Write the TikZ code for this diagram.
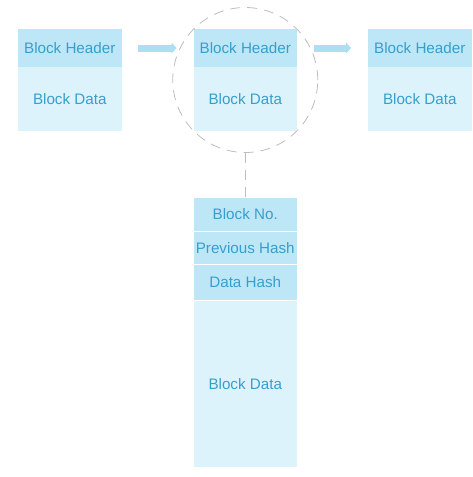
\documentclass[tikz,border=0pt]{standalone}
\usepackage{fontspec}
\setmainfont{Liberation Sans}
\usetikzlibrary{positioning,arrows.meta,calc,backgrounds}
\definecolor{hdrblue}{HTML}{BDE7F7}
\definecolor{datblue}{HTML}{DDF3FC}
\definecolor{arrblue}{HTML}{ACDFF2}
\definecolor{txtblue}{HTML}{379FCC}
\definecolor{ringgray}{HTML}{BDBDBD}

\begin{document}
\begin{tikzpicture}[
    x=1pt, y=-1pt,
    every node/.style={font=\fontsize{15.2}{18}\selectfont, text=txtblue, outer sep=0pt},
    hdr/.style={fill=hdrblue, minimum width=103.5pt, minimum height=38pt, inner sep=0pt},
    dat/.style={fill=datblue, minimum width=103.5pt, minimum height=64pt, inner sep=0pt},
    cell/.style={fill=hdrblue, minimum width=103.5pt, minimum height=#1, inner sep=0pt},
    link/.style={arrblue, line width=7pt, -{Triangle[length=5pt, width=11pt]},
        shorten <=16.5pt, shorten >=17pt},
    ring/.style={draw=ringgray, line width=0.8pt, dash pattern=on 10pt off 7pt},
]
\useasboundingbox (0,0) rectangle (473,477);

% === Chain of blocks ===
\node[hdr, anchor=north west] at (18,29) (hdr1) {Block Header};
\node[dat, below=0pt of hdr1] (dat1) {Block Data};

\node[hdr, right=72pt of hdr1] (hdr2) {Block Header};
\node[dat, below=0pt of hdr2] (dat2) {Block Data};

\node[hdr, right=71pt of hdr2] (hdr3) {Block Header};
\node[dat, below=0pt of hdr3] (dat3) {Block Data};

% focus ring behind the middle block
\begin{scope}[on background layer]
\node[ring, circle, minimum size=145pt, inner sep=0pt]
    at ($(hdr2.north)!0.5!(dat2.south)$) (focus) {};
\end{scope}

% === Arrows ===
\draw[link] (hdr1.east) -- (hdr2.west);
\draw[link] (hdr2.east) -- (hdr3.west);

% === Expanded block ===
\node[cell=33pt, below=67pt of dat2] (num) {Block No.};
\node[cell=32pt, below=1pt of num] (prev) {Previous Hash};
\node[cell=35pt, below=1pt of prev] (dhash) {Data Hash};
\node[dat, minimum height=166pt, below=1pt of dhash] (bdata) {Block Data};

\draw[ring] (focus.south) -- (num.north);

\end{tikzpicture}
\end{document}
